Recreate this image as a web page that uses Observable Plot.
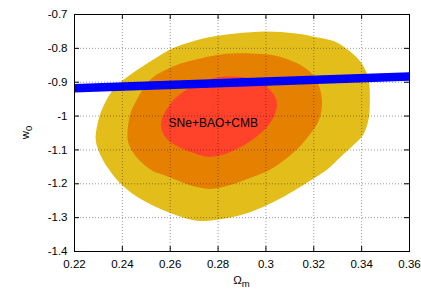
<!DOCTYPE html>
<html>
<head>
<meta charset="utf-8">
<script src="https://cdn.jsdelivr.net/npm/d3@7"></script>
<script src="https://cdn.jsdelivr.net/npm/@observablehq/plot@0.6"></script>
<style>
  html, body { margin: 0; padding: 0; background: #fff; }
</style>
</head>
<body>
<div id="chart"></div>
<script>
// Tick values
const xTicks = [0.22, 0.24, 0.26, 0.28, 0.30, 0.32, 0.34, 0.36];
const yTicks = [-1.4, -1.3, -1.2, -1.1, -1.0, -0.9, -0.8, -0.7];

// Outer (gold) contour
const goldX = [0.2999, 0.3125, 0.3217, 0.3288, 0.3342, 0.3384, 0.3413, 0.3430, 0.3434, 0.3434, 0.3430, 0.3409, 0.3363, 0.3313, 0.3259, 0.3204, 0.3066, 0.2924, 0.2786, 0.2728, 0.2661, 0.2548, 0.2444, 0.2381, 0.2339, 0.2306, 0.2289, 0.2293, 0.2318, 0.2368, 0.2439, 0.2523, 0.2590, 0.2665, 0.2757, 0.2874];
const goldY = [-0.750, -0.756, -0.768, -0.780, -0.804, -0.830, -0.860, -0.895, -0.931, -0.969, -1.005, -1.052, -1.088, -1.120, -1.156, -1.182, -1.241, -1.286, -1.307, -1.310, -1.301, -1.271, -1.230, -1.191, -1.153, -1.111, -1.073, -1.034, -0.975, -0.916, -0.875, -0.836, -0.807, -0.786, -0.768, -0.756];

// Middle (orange) contour
const orangeX = [0.2937, 0.3037, 0.3133, 0.3192, 0.3221, 0.3233, 0.3233, 0.3217, 0.3179, 0.3133, 0.3062, 0.3008, 0.2924, 0.2853, 0.2778, 0.2707, 0.2644, 0.2582, 0.2527, 0.2473, 0.2439, 0.2423, 0.2423, 0.2435, 0.2460, 0.2490, 0.2527, 0.2582, 0.2644, 0.2707, 0.2811];
const orangeY = [-0.815, -0.821, -0.845, -0.875, -0.910, -0.946, -0.978, -1.020, -1.058, -1.096, -1.138, -1.162, -1.185, -1.203, -1.215, -1.209, -1.194, -1.176, -1.162, -1.132, -1.102, -1.073, -1.034, -0.990, -0.952, -0.916, -0.886, -0.863, -0.845, -0.833, -0.818];

// Inner (red) contour
const redX = [0.2866, 0.2937, 0.2987, 0.3020, 0.3041, 0.3045, 0.3029, 0.2999, 0.2949, 0.2882, 0.2820, 0.2757, 0.2694, 0.2636, 0.2594, 0.2569, 0.2561, 0.2569, 0.2590, 0.2619, 0.2661, 0.2728, 0.2795];
const redY = [-0.883, -0.889, -0.904, -0.925, -0.946, -0.975, -1.008, -1.037, -1.067, -1.096, -1.114, -1.120, -1.108, -1.091, -1.073, -1.049, -1.025, -1.002, -0.975, -0.949, -0.925, -0.901, -0.886];

// Blue band (line) end points
const blueX = [0.22, 0.36];
const blueY = [-0.9175, -0.8828];

// Label
const labelText = ["SNe+BAO+CMB"];
const labelX = [0.278];
const labelY = [-1.02];

const toPts = (xs, ys) => xs.map((x, i) => ({x, y: ys[i]}));
const gold = toPts(goldX, goldY);
const orange = toPts(orangeX, orangeY);
const red = toPts(redX, redY);
const blue = toPts(blueX, blueY);
const labels = labelText.map((t, i) => ({t, x: labelX[i], y: labelY[i]}));

const W = 421, H = 301;
const mL = 74, mR = 12, mT = 14, mB = 50;
const innerW = W - mL - mR, innerH = H - mT - mB;
const tickLen = 5;
const font = "'Liberation Sans', Arial, Helvetica, sans-serif";

const chart = Plot.plot({
  width: W,
  height: H,
  marginLeft: mL,
  marginRight: mR,
  marginTop: mT,
  marginBottom: mB,
  style: {fontFamily: font, fontSize: "11.5px", background: "#fff", color: "#000"},
  x: {domain: [0.22, 0.36], ticks: xTicks, tickSize: 0, tickPadding: 8, tickFormat: d => String(d), label: null},
  y: {domain: [-1.4, -0.7], ticks: yTicks, tickSize: 0, tickPadding: 7, tickFormat: d => String(d), label: null},
  marks: [
    Plot.line(gold, {x: "x", y: "y", curve: "catmull-rom-closed", fill: "#e3be1a", stroke: "none"}),
    Plot.line(orange, {x: "x", y: "y", curve: "catmull-rom-closed", fill: "#e58000", stroke: "none"}),
    Plot.line(red, {x: "x", y: "y", curve: "catmull-rom-closed", fill: "#ff432b", stroke: "none"}),
    Plot.line(blue, {x: "x", y: "y", stroke: "#0000ff", strokeWidth: 8.5, strokeLinecap: "butt", clip: true}),
    Plot.text(labels, {x: "x", y: "y", text: "t", fontSize: 12, fill: "#000", fontFamily: font}),
    Plot.gridX(xTicks.slice(1, -1), {stroke: "#000", strokeOpacity: 0.4, strokeDasharray: "1,2"}),
    Plot.gridY(yTicks.slice(1, -1), {stroke: "#000", strokeOpacity: 0.4, strokeDasharray: "1,2"}),
    Plot.tickX(xTicks, {x: d => d, insetTop: innerH - tickLen, stroke: "#000"}),
    Plot.tickX(xTicks, {x: d => d, insetBottom: innerH - tickLen, stroke: "#000"}),
    Plot.tickY(yTicks, {y: d => d, insetRight: innerW - tickLen, stroke: "#000"}),
    Plot.tickY(yTicks, {y: d => d, insetLeft: innerW - tickLen, stroke: "#000"}),
    Plot.frame({stroke: "#000"})
  ]
});

const svg = d3.select(chart);
// x axis label: Omega_m
const xl = svg.append("text")
  .attr("x", mL + innerW / 2)
  .attr("y", 284)
  .attr("text-anchor", "middle")
  .attr("font-family", font)
  .attr("font-size", 11.5)
  .attr("fill", "#000");
xl.append("tspan").text("Ω");
xl.append("tspan").attr("dy", 3).attr("font-size", 9.5).text("m");

// y axis label: w_0
const yl = svg.append("text")
  .attr("transform", `translate(28.5,${mT + innerH / 2}) rotate(-90)`)
  .attr("text-anchor", "middle")
  .attr("font-family", font)
  .attr("font-size", 11.5)
  .attr("fill", "#000");
yl.append("tspan").text("w");
yl.append("tspan").attr("dy", 3).attr("font-size", 9.5).text("0");

document.getElementById("chart").appendChild(chart);
</script>
</body>
</html>
